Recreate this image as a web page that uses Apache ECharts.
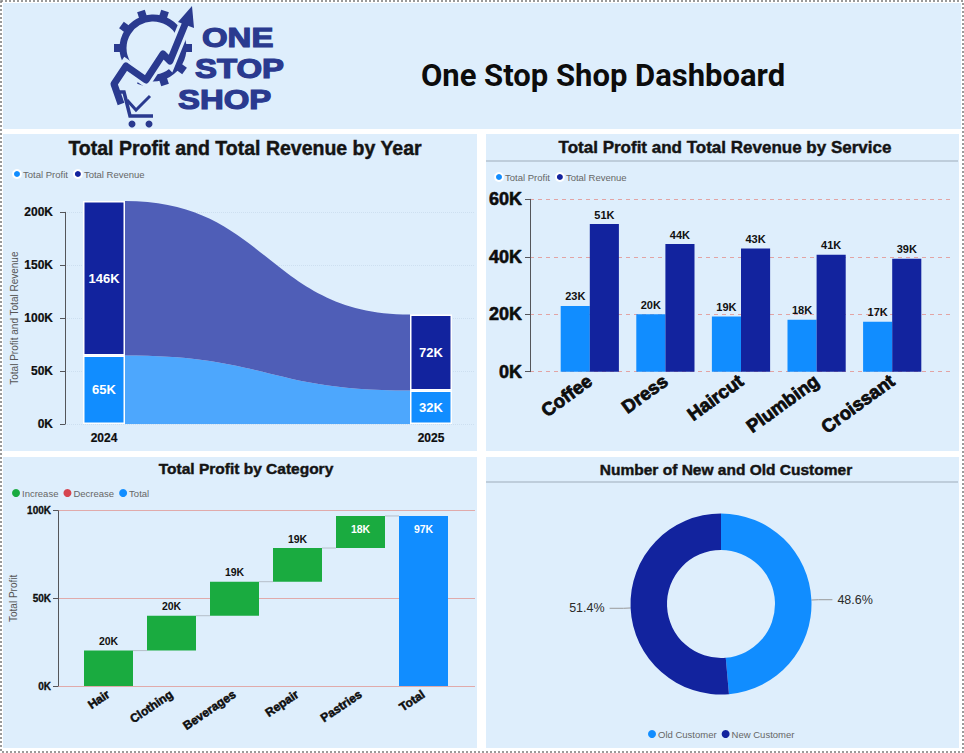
<!DOCTYPE html>
<html><head><meta charset="utf-8">
<script src="https://cdn.jsdelivr.net/npm/echarts@6/dist/echarts.min.js"></script>
<style>html,body{margin:0;padding:0;background:#fff}#c{width:964px;height:753px}</style>
</head><body><div id="c"></div>
<script>
// ---------- data ----------
const years = ['2024', '2025'];
const yearProfit = [64800, 31600];
const yearRevenue = [145800, 71800];

const services = ['Coffee', 'Dress', 'Haircut', 'Plumbing', 'Croissant'];
const serviceProfit = [22900, 20000, 19200, 18100, 17400];
const serviceRevenue = [51400, 44400, 42900, 40700, 39300];

const categories = ['Hair', 'Clothing', 'Beverages', 'Repair', 'Pastries'];
const categoryProfit = [20200, 19900, 19400, 19200, 18300];
const totalName = 'Total';

const customerTypes = ['Old Customer', 'New Customer'];
const customerShare = [48.6, 51.4];

const yearAxis = {min: 0, max: 200000, interval: 50000};
const serviceAxis = {min: 0, max: 60000, interval: 20000};
const categoryAxis = {min: 0, max: 100000, interval: 50000};

// ---------- styles ----------
const C_PROFIT = '#118DFF', C_REV = '#12239E';
const C_PROFIT_FLOW = '#4DA7FD', C_REV_FLOW = '#4F5EB7';
const C_INC = '#1AAB40', C_DEC = '#D64550', C_TOT = '#118DFF';
const PANEL = '#DEEEFC';
const FONT = '"Liberation Sans", Arial, sans-serif';
const kFmt = v => Math.round(v / 1000) + 'K';

// waterfall helpers (running sums of the category values)
const bases = [];
let run = 0;
categoryProfit.forEach(v => { bases.push(run); run += v; });
const categoryTotal = run;

const chart = echarts.init(document.getElementById('c'), null, {renderer: 'svg'});

function flowItem(params, api) {
  const half = 21;
  const a0 = api.coord([0, api.value(1)]), a1 = api.coord([0, api.value(2)]);
  const b0 = api.coord([1, api.value(3)]), b1 = api.coord([1, api.value(4)]);
  const x0 = a0[0] + half, x1 = b0[0] - half, xm = (x0 + x1) / 2;
  const d = 'M' + x0 + ' ' + a1[1] + ' C' + xm + ' ' + a1[1] + ' ' + xm + ' ' + b1[1] + ' ' + x1 + ' ' + b1[1] +
            ' L' + x1 + ' ' + b0[1] + ' C' + xm + ' ' + b0[1] + ' ' + xm + ' ' + a0[1] + ' ' + x0 + ' ' + a0[1] + ' Z';
  return {type: 'path', shape: {pathData: d}, style: {fill: api.visual('color')}};
}
function connItem(params, api) {
  const p = api.coord([api.value(0), api.value(1)]);
  const band = api.size([1, 0])[0];
  return {type: 'line', shape: {x1: p[0] + 24.5, y1: p[1], x2: p[0] + band - 24.5, y2: p[1]},
          style: {stroke: '#b5bec8', lineWidth: 1}};
}

function titleText(text, x, y, size) {
  return {type: 'text', x: x, y: y, z: 20,
    style: {text: text, textAlign: 'center', textVerticalAlign: 'middle',
      font: 'bold ' + size + 'px ' + FONT, fill: '#141414', stroke: '#141414', lineWidth: 0.45}};
}
function rect(x, y, w, h, fill) {
  return {type: 'rect', z: -10, shape: {x: x, y: y, width: w, height: h}, style: {fill: fill}};
}
const NAVY = '#2A3A8F';
const teeth = [];
for (let k = 0; k < 10; k++) {
  const ang = (k / 10) * Math.PI * 2;
  teeth.push({type: 'rect', z: 5, x: 153, y: 48, rotation: -ang, originX: 0, originY: 0,
    shape: {x: 31, y: -4, width: 8, height: 8}, style: {fill: NAVY}});
}
function logoText(t, x, y) {
  return {type: 'text', x: x, y: y, z: 20, scaleX: 1.22,
    style: {text: t, textVerticalAlign: 'middle', font: 'bold 27px ' + FONT,
      fill: NAVY, stroke: NAVY, lineWidth: 1.2}};
}

const legendBase = {icon: 'circle', itemWidth: 8, itemHeight: 8, itemGap: 5,
  textStyle: {fontSize: 9.5, color: '#666', fontFamily: FONT, padding: [0, 0, 0, -3]}};
const bold = (size, extra) => Object.assign({fontSize: size, fontWeight: 'bold', color: '#0d0d0d',
  textBorderColor: '#0d0d0d', textBorderWidth: 0.4}, extra || {});

const option = {
  backgroundColor: '#ffffff',
  animation: false,
  textStyle: {fontFamily: FONT},
  graphic: [
    rect(3, 3, 958, 126, PANEL),
    rect(3, 134, 474, 317, PANEL),
    rect(486, 134, 473, 317, PANEL),
    rect(3, 457, 474, 291, PANEL),
    rect(486, 457, 473, 291, PANEL),
    {type: 'line', z: 5, shape: {x1: 486, y1: 161, x2: 958, y2: 161}, style: {stroke: '#9eacba', lineWidth: 1}},
    {type: 'line', z: 5, shape: {x1: 486, y1: 482, x2: 958, y2: 482}, style: {stroke: '#9eacba', lineWidth: 1}},
    {type: 'rect', z: 30, shape: {x: 1, y: 1, width: 962, height: 751},
      style: {fill: 'none', stroke: '#7a7a7a', lineWidth: 1.5, lineDash: [2, 2]}},
    titleText('Total Profit and Total Revenue by Year', 245, 148, 19.5),
    titleText('Total Profit and Total Revenue by Service', 725, 147, 17),
    titleText('Total Profit by Category', 246, 468, 15.5),
    titleText('Number of New and Old Customer', 726, 469, 15.5),
    {type: 'text', x: 603, y: 75, z: 20, style: {text: 'One Stop Shop Dashboard', textAlign: 'center',
      textVerticalAlign: 'middle', font: 'bold 31px Roboto, ' + FONT, fill: '#0c0c0c'}},
    // logo
    logoText('ONE', 202, 38),
    logoText('STOP', 195, 69),
    logoText('SHOP', 178, 100),
    {type: 'circle', z: 5, shape: {cx: 153, cy: 48, r: 30}, style: {fill: 'none', stroke: NAVY, lineWidth: 7}},
    ...teeth,
    {type: 'polyline', z: 6, shape: {points: [[121, 104], [114, 84], [126, 66], [146, 80], [163, 54], [170, 61], [186, 22]]},
      style: {fill: 'none', stroke: PANEL, lineWidth: 13}},
    {type: 'polyline', z: 7, shape: {points: [[121, 104], [114, 84], [126, 66], [146, 80], [163, 54], [170, 61], [186, 22]]},
      style: {fill: 'none', stroke: NAVY, lineWidth: 7, lineJoin: 'round'}},
    {type: 'polygon', z: 7, shape: {points: [[178, 22], [192, 6], [194, 28]]}, style: {fill: NAVY}},
    {type: 'polyline', z: 7, shape: {points: [[116, 92], [124, 92], [130, 116], [153, 116]]},
      style: {fill: 'none', stroke: NAVY, lineWidth: 3.5}},
    {type: 'polyline', z: 7, shape: {points: [[127, 100], [136, 110], [142, 104], [150, 96]]},
      style: {fill: 'none', stroke: NAVY, lineWidth: 3}},
    {type: 'circle', z: 7, shape: {cx: 132, cy: 124, r: 3.5}, style: {fill: NAVY}},
    {type: 'circle', z: 7, shape: {cx: 149, cy: 124, r: 3.5}, style: {fill: NAVY}}
  ],
  legend: [
    Object.assign({data: ['Total Profit', 'Total Revenue'], left: 7, top: 164}, legendBase),
    Object.assign({data: ['Total Profit', 'Total Revenue'], left: 489, top: 167}, legendBase),
    Object.assign({data: ['Increase', 'Decrease', 'Total'], left: 7, top: 483}, legendBase),
    Object.assign({data: customerTypes, left: 643, top: 724}, legendBase)
  ],
  grid: [
    {left: 104, right: 533, top: 212.3, bottom: 329},
    {left: 552, right: 34, top: 199.3, bottom: 381.3},
    {left: 530, right: 10, top: 199.3, bottom: 381.3},
    {left: 77, right: 509, top: 510.7, bottom: 67},
    {left: 58, right: 489, top: 510.7, bottom: 67},
    {left: 65, right: 489, top: 212.3, bottom: 329}
  ],
  xAxis: [
    {gridIndex: 0, type: 'category', data: years, boundaryGap: false,
      axisLine: {show: false}, axisTick: {show: false}, splitLine: {show: false},
      axisLabel: bold(12, {margin: 8, textBorderWidth: 0.2})},
    {gridIndex: 1, type: 'category', data: services,
      axisLine: {show: false}, axisTick: {show: false},
      axisLabel: bold(18.5, {interval: 0, rotate: 36, margin: 7, textBorderWidth: 0.8})},
    {gridIndex: 2, type: 'value', show: false, min: 0, max: 1},
    {gridIndex: 3, type: 'category', data: categories.concat([totalName]),
      axisLine: {show: false}, axisTick: {show: false},
      axisLabel: bold(12, {interval: 0, rotate: 34, margin: 7, textBorderWidth: 0.5})},
    {gridIndex: 4, type: 'value', show: false, min: 0, max: 1},
    {gridIndex: 5, type: 'value', show: false, min: 0, max: 1}
  ],
  yAxis: [
    {gridIndex: 0, type: 'value', min: yearAxis.min, max: yearAxis.max, interval: yearAxis.interval,
      axisLabel: {show: false}, splitLine: {show: false}},
    {gridIndex: 1, type: 'value', min: serviceAxis.min, max: serviceAxis.max, interval: serviceAxis.interval,
      axisLabel: {show: false}, splitLine: {show: false}},
    {gridIndex: 2, type: 'value', min: serviceAxis.min, max: serviceAxis.max, interval: serviceAxis.interval,
      axisLabel: bold(18, {formatter: kFmt, margin: 8, textBorderWidth: 0.6}),
      splitLine: {lineStyle: {type: [4, 4], color: '#e2a4a4'}}},
    {gridIndex: 3, type: 'value', min: categoryAxis.min, max: categoryAxis.max, interval: categoryAxis.interval,
      axisLabel: {show: false}, splitLine: {show: false}},
    {gridIndex: 4, type: 'value', min: categoryAxis.min, max: categoryAxis.max, interval: categoryAxis.interval,
      name: 'Total Profit', nameLocation: 'middle', nameGap: 40, nameTextStyle: {fontSize: 10, color: '#555'},
      axisLabel: bold(10, {formatter: kFmt, margin: 7, textBorderWidth: 0.3}),
      splitLine: {lineStyle: {color: '#e0aaaa', width: 1}}},
    {gridIndex: 5, type: 'value', min: yearAxis.min, max: yearAxis.max, interval: yearAxis.interval,
      name: 'Total Profit and Total Revenue', nameLocation: 'middle', nameGap: 46,
      nameTextStyle: {fontSize: 10, color: '#555'},
      axisLabel: bold(12, {formatter: kFmt, margin: 12, textBorderWidth: 0.2}),
      splitLine: {lineStyle: {type: 'dotted', color: '#cddff0'}}}
  ],
  series: [
    // ---- by year ----
    {type: 'custom', xAxisIndex: 0, yAxisIndex: 0, silent: true, z: 1, renderItem: flowItem, clip: false,
      encode: {x: 0, y: [1, 2, 3, 4]},
      data: [
        {value: [0, 0, yearProfit[0], 0, yearProfit[1]], itemStyle: {color: C_PROFIT_FLOW}},
        {value: [0, yearProfit[0], yearProfit[0] + yearRevenue[0], yearProfit[1], yearProfit[1] + yearRevenue[1]], itemStyle: {color: C_REV_FLOW}}
      ]},
    {name: 'Total Profit', type: 'bar', xAxisIndex: 0, yAxisIndex: 0, stack: 'year', barWidth: 42, clip: false,
      data: yearProfit,
      itemStyle: {color: C_PROFIT, borderColor: '#fff', borderWidth: 1.5},
      label: {show: true, position: 'inside', color: '#fff', fontWeight: 'bold', fontSize: 13, formatter: p => kFmt(p.value)}},
    {name: 'Total Revenue', type: 'bar', xAxisIndex: 0, yAxisIndex: 0, stack: 'year', barWidth: 42, clip: false,
      data: yearRevenue,
      itemStyle: {color: C_REV, borderColor: '#fff', borderWidth: 1.5},
      label: {show: true, position: 'inside', color: '#fff', fontWeight: 'bold', fontSize: 13, formatter: p => kFmt(p.value)}},
    // ---- by service ----
    {name: 'Total Profit', type: 'bar', xAxisIndex: 1, yAxisIndex: 1, data: serviceProfit,
      barGap: '0%', barCategoryGap: '23%', itemStyle: {color: C_PROFIT},
      label: {show: true, position: 'top', distance: 4, color: '#111', fontWeight: 'bold', fontSize: 11, formatter: p => kFmt(p.value)}},
    {name: 'Total Revenue', type: 'bar', xAxisIndex: 1, yAxisIndex: 1, data: serviceRevenue,
      barGap: '0%', barCategoryGap: '23%', itemStyle: {color: C_REV},
      label: {show: true, position: 'top', distance: 4, color: '#111', fontWeight: 'bold', fontSize: 11, formatter: p => kFmt(p.value)}},
    // ---- waterfall ----
    {type: 'bar', xAxisIndex: 3, yAxisIndex: 3, stack: 'wf', barWidth: 49, silent: true,
      itemStyle: {color: 'transparent'}, data: bases.concat([0])},
    {name: 'Increase', type: 'bar', xAxisIndex: 3, yAxisIndex: 3, stack: 'wf', barWidth: 49,
      itemStyle: {color: C_INC},
      data: categoryProfit.map((v, i) => {
        const inside = bases[i] + v >= 0.9 * categoryAxis.max;
        return {value: v, label: {show: true, position: inside ? 'insideTop' : 'top', distance: inside ? 8 : 4,
          color: inside ? '#fff' : '#111', fontWeight: 'bold', fontSize: 10.5, formatter: kFmt(v)}};
      }).concat(['-'])},
    {name: 'Decrease', type: 'bar', xAxisIndex: 3, yAxisIndex: 3, stack: 'wf', barWidth: 49,
      itemStyle: {color: C_DEC}, data: []},
    {name: 'Total', type: 'bar', xAxisIndex: 3, yAxisIndex: 3, stack: 'wf', barWidth: 49,
      itemStyle: {color: C_TOT},
      label: {show: true, position: 'insideTop', distance: 8, color: '#fff', fontWeight: 'bold', fontSize: 10.5, formatter: p => kFmt(p.value)},
      data: categoryProfit.map(() => '-').concat([categoryTotal])},
    {type: 'custom', xAxisIndex: 3, yAxisIndex: 3, silent: true, renderItem: connItem, encode: {x: 0, y: 1},
      data: categoryProfit.map((v, i) => [i, bases[i] + v])},
    // ---- customers ----
    {type: 'pie', center: [721, 604], radius: [54, 90.5], startAngle: 90, clockwise: true,
      data: customerTypes.map((n, i) => ({name: n, value: customerShare[i]})),
      color: [C_PROFIT, C_REV],
      label: {formatter: p => p.value.toFixed(1) + '%', fontSize: 12.5, color: '#2a2a2a'},
      labelLine: {length: 7, length2: 14, lineStyle: {color: '#999'}}}
  ]
};
chart.setOption(option);
</script>
</body></html>
